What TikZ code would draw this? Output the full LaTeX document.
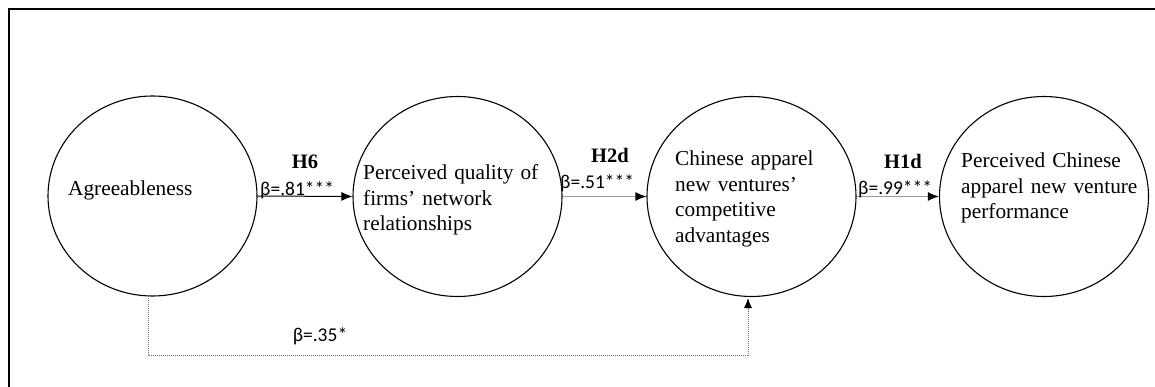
\documentclass[tikz,border=0pt]{standalone}
\usepackage{fontspec}
\setmainfont{Liberation Serif}
\newfontfamily\betafont{Carlito}
\usetikzlibrary{arrows.meta,shapes.geometric}
\begin{document}
\begin{tikzpicture}[x=1pt,y=-1pt,
  construct/.style={draw, line width=1.1pt, ellipse, minimum width=209pt, minimum height=200pt, inner sep=0pt},
  ctext/.style={anchor=base west, align=left, text width=200pt, inner sep=0pt,
    font=\fontsize{21.3pt}{25.5pt}\selectfont},
  hyp/.style={font=\fontsize{20.5pt}{24pt}\selectfont\bfseries, inner sep=0pt, anchor=base},
  coef/.style={font=\fontsize{19.5pt}{23pt}\selectfont\betafont, inner sep=0pt, anchor=base west},
  path1/.style={line width=1pt, -{Latex[length=11pt,width=9pt]}},
  grayarrow/.style={draw=black!40, line width=1.2pt, -{Latex[length=11pt,width=9pt,color=black]}},
  indirect/.style={draw=black!55, line width=1pt, densely dotted, -{Latex[length=10pt,width=8pt,color=black]}}
]
\useasboundingbox (0,0) rectangle (1155,387);

% frame
\draw[line width=2.6pt] (9,387) -- (9,9) -- (1155,9);

% constructs
\node[construct] (agree) at (152.5,196) {};
\node[construct] (qual) at (457.5,196.5) {};
\node[construct] (adv) at (751.5,196.5) {};
\node[construct] (perf) at (1044,196.5) {};

\node[ctext] (tagree) at (68,196) {Agreeableness};
\node[ctext] (tqual) at (363,180) {Perceived quality of\\firms’ network\\relationships};
\node[ctext] (tadv) at (675,166) {Chinese apparel\\new ventures’\\competitive\\advantages};
\node[ctext] (tperf) at (961,168) {Perceived Chinese\\apparel new venture\\performance};

% direct paths
\draw[path1] (agree.east) -- (qual.west);
\draw[grayarrow] (qual.east) -- (adv.west);
\draw[grayarrow] (adv.east) -- (perf.west);

\node[hyp] (h6) at (305,169) {H6};
\node[coef] (b6) at (260,196) {β=.81***};
\node[hyp] (h2d) at (610,163) {H2d};
\node[coef] (b2d) at (560,189) {β=.51***};
\node[hyp] (h1d) at (903,169) {H1d};
\node[coef] (b1d) at (858,195) {β=.99***};

% indirect path
\coordinate (s1) at (148,296);
\coordinate (c1) at (148,355);
\coordinate (c2) at (748,355);
\coordinate (e1) at (748,298);
\draw[indirect] (s1) -- (c1) -- (c2) -- (e1);
\node[coef, anchor=base] (b35) at (320,341) {β=.35*};
\end{tikzpicture}
\end{document}
